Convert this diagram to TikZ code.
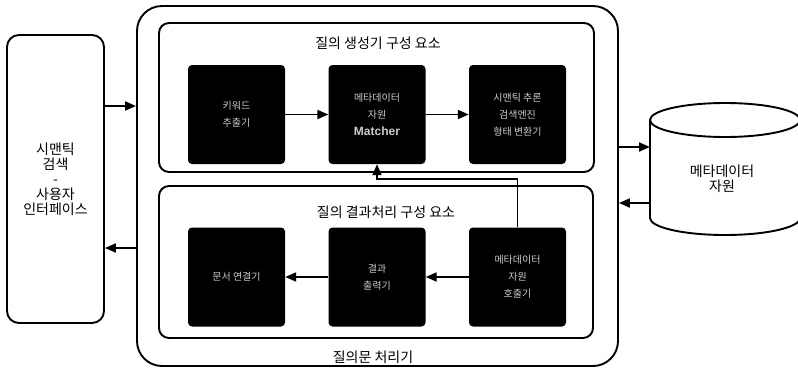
\documentclass[tikz,border=0pt]{standalone}
\usepackage{fontspec}
\setmainfont{Noto Sans CJK KR}
\newfontfamily\latinfont{Liberation Sans}
\usetikzlibrary{arrows.meta}
\tikzset{
  frame/.style={draw, line width=1.9pt},
  unit/.style={fill=black, rounded corners=4pt, minimum width=97pt, minimum height=99pt, inner sep=0pt,
    text=white!80!black, align=center, font=\fontsize{10}{17}\selectfont},
  big/.style={align=center, font=\fontsize{14}{15}\selectfont},
  arr/.style={line width=1.9pt, -{Triangle[length=11pt,width=9pt]}}
}
\begin{document}
\begin{tikzpicture}[x=1pt,y=-1pt]
	\useasboundingbox (0,0) rectangle (798,368);
	\node[frame,rounded corners=12pt,minimum width=97pt,minimum height=288pt,big] (ui) at (55.5,179) {시맨틱\\검색\\-\\사용자\\인터페이스};
	\node[frame,rounded corners=25pt,minimum width=481pt,minimum height=360pt] (proc) at (377.5,186) {};
	\node[big] (proclabel) at (373,357) {질의문 처리기};
	\node[frame,rounded corners=10pt,minimum width=435pt,minimum height=149pt] (gen) at (376.5,97.5) {};
	\node[big] (gentitle) at (378,43) {질의 생성기 구성 요소};
	\node[frame,rounded corners=10pt,minimum width=434pt,minimum height=152pt] (post) at (376,262) {};
	\node[big] (posttitle) at (386,212) {질의 결과처리 구성 요소};
	\node[unit] (kw) at (236.5,114.5) {키워드\\추출기};
	\node[unit] (mat) at (377,114.5) {메타데이터\\자원\\{\latinfont\fontsize{12}{17}\selectfont\bfseries Matcher}};
	\node[unit] (sem) at (517.5,114.5) {시맨틱 추론\\검색엔진\\형태 변환기};
	\node[unit] (doc) at (236.5,277) {문서 연결기};
	\node[unit] (res) at (377,277) {결과\\출력기};
	\node[unit] (call) at (517.5,277) {메타데이터\\자원\\호출기};
	\draw[frame] (725,120) ellipse [x radius=75, y radius=17];
	\draw[frame] (650,120) -- (650,218) arc [start angle=180, end angle=0, x radius=75, y radius=17] -- (800,120);
	\node[big] (meta) at (722,178.5) {메타데이터\\자원};
	\coordinate (wall) at (650,169);
	\coordinate (toproc) at (0,106);
	\coordinate (toui) at (0,248);
	\coordinate (tometa) at (0,147);
	\coordinate (frommeta) at (0,203);
	\draw[arr] (ui.east |- toproc) -- (proc.west |- toproc);
	\draw[arr] (proc.west |- toui) -- (ui.east |- toui);
	\draw[arr] (proc.east |- tometa) -- (wall |- tometa);
	\draw[arr] (wall |- frommeta) -- (proc.east |- frommeta);
	\draw[arr] (kw) -- (mat);
	\draw[arr] (mat) -- (sem);
	\draw[arr] (call) -- (res);
	\draw[arr] (res) -- (doc);
	\draw[arr] (call.north) -- ++(0,-48) -| (mat.south);
\end{tikzpicture}
\end{document}
